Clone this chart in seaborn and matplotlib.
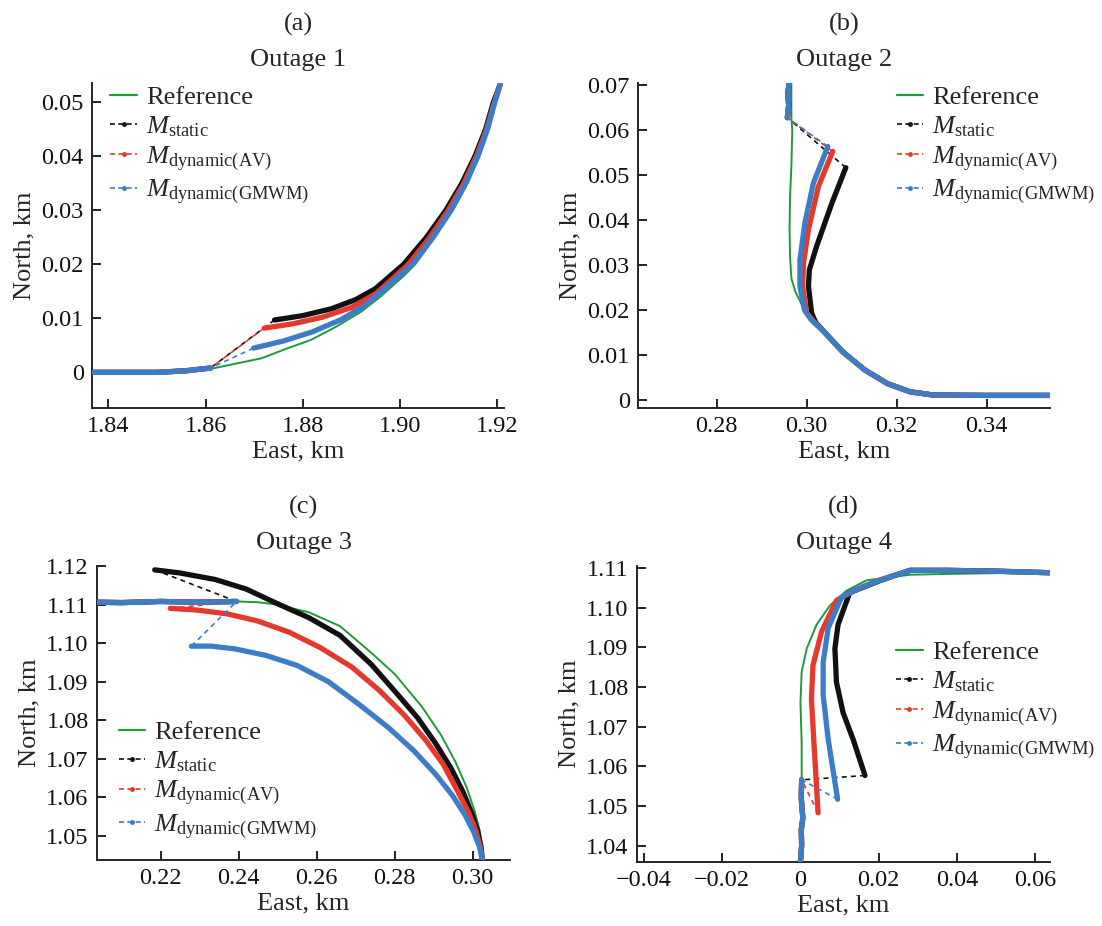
import matplotlib
matplotlib.use("Agg")
import matplotlib.pyplot as plt
from matplotlib.lines import Line2D
import seaborn as sns

# ---- data (km) ----
# (a) Outage 1
a_ref_x = [1.9207, 1.9197, 1.9183, 1.9164, 1.9140, 1.9110, 1.9068, 1.9032, 1.9010, 1.8960, 1.8920, 1.8870,
           1.8817, 1.8770, 1.8715, 1.8640, 1.8608, 1.856, 1.850, 1.8370]
a_ref_y = [0.0533, 0.0500, 0.0450, 0.0400, 0.0350, 0.0300, 0.0245, 0.0200, 0.0180, 0.0140, 0.0112, 0.0085,
           0.0060, 0.0045, 0.0026, 0.0012, 0.0006, 0.0003, 0.0001, 0.0]
a_sta_x = [1.9207, 1.9193, 1.9177, 1.9155, 1.9128, 1.9095, 1.9055, 1.9008, 1.8950, 1.8910, 1.8860, 1.8800, 1.8742]
a_sta_y = [0.0533, 0.0500, 0.0450, 0.0400, 0.0350, 0.0300, 0.0250, 0.0200, 0.0155, 0.0135, 0.0118, 0.0105, 0.0097]
a_av_x = [1.9207, 1.9195, 1.9179, 1.9158, 1.9132, 1.9100, 1.9062, 1.9018, 1.8950, 1.8900, 1.8840, 1.8780, 1.8721]
a_av_y = [0.0533, 0.0500, 0.0450, 0.0400, 0.0350, 0.0300, 0.0250, 0.0200, 0.0145, 0.0120, 0.0102, 0.0090, 0.0082]
a_gm_x = [1.9207, 1.9196, 1.9181, 1.9161, 1.9136, 1.9105, 1.9069, 1.9026, 1.8975, 1.8930, 1.8880, 1.8820, 1.8760, 1.8699]
a_gm_y = [0.0533, 0.0500, 0.0450, 0.0400, 0.0350, 0.0300, 0.0250, 0.0200, 0.0160, 0.0125, 0.0098, 0.0075, 0.0058, 0.0045]
a_end_x = [1.861, 1.856, 1.850, 1.8370]
a_end_y = [0.0008, 0.0003, 0.0, 0.0]

# (b) Outage 2
b_ref_x = [0.3541, 0.340, 0.328, 0.323, 0.318, 0.313, 0.308, 0.304, 0.301, 0.299, 0.2975, 0.2966, 0.2963, 0.2962,
           0.2963, 0.2966, 0.2968, 0.2966, 0.2966]
b_ref_y = [0.0010, 0.0010, 0.0011, 0.0017, 0.0035, 0.0065, 0.0105, 0.0145, 0.0180, 0.0210, 0.0240, 0.0270, 0.0320,
           0.0380, 0.0450, 0.0520, 0.0600, 0.0625, 0.0704]
b_sta_x = [0.3541, 0.340, 0.328, 0.323, 0.318, 0.313, 0.308, 0.304, 0.3020, 0.3011, 0.3004, 0.3006, 0.3022, 0.3056, 0.3087]
b_sta_y = [0.0010, 0.0010, 0.0011, 0.0018, 0.0036, 0.0066, 0.0107, 0.0150, 0.0172, 0.0193, 0.0252, 0.0289, 0.0341, 0.0437, 0.0516]
b_av_x = [0.3541, 0.340, 0.328, 0.323, 0.318, 0.313, 0.308, 0.304, 0.3015, 0.3000, 0.2991, 0.2993, 0.3004, 0.3026, 0.3058]
b_av_y = [0.0010, 0.0010, 0.0011, 0.0018, 0.0036, 0.0066, 0.0107, 0.0150, 0.0175, 0.0193, 0.0252, 0.0304, 0.0378, 0.0474, 0.0552]
b_gm_x = [0.3541, 0.340, 0.328, 0.323, 0.318, 0.313, 0.308, 0.304, 0.3010, 0.2995, 0.2985, 0.2985, 0.2996, 0.3015, 0.3047]
b_gm_y = [0.0010, 0.0010, 0.0011, 0.0018, 0.0036, 0.0066, 0.0107, 0.0150, 0.0178, 0.0200, 0.0252, 0.0311, 0.0393, 0.0482, 0.0563]
b_end_x = [0.2957, 0.2960, 0.2958, 0.2961]
b_end_y = [0.0627, 0.0655, 0.0680, 0.0704]

# (c) Outage 3
c_ref_x = [0.3025, 0.3024, 0.3018, 0.3005, 0.2985, 0.2957, 0.2920, 0.2870, 0.2800, 0.2740, 0.2660, 0.2580, 0.2497,
           0.2450, 0.2395, 0.2200, 0.2037]
c_ref_y = [1.0437, 1.0470, 1.0515, 1.0565, 1.0625, 1.0690, 1.0760, 1.0835, 1.0920, 1.0975, 1.1044, 1.1080, 1.1100,
           1.1106, 1.1108, 1.1106, 1.1106]
c_sta_x = [0.3025, 0.3022, 0.3013, 0.2998, 0.2975, 0.2945, 0.2905, 0.2860, 0.2805, 0.2740, 0.2660, 0.2580, 0.2500,
           0.2420, 0.2340, 0.2249, 0.2185]
c_sta_y = [1.0437, 1.0470, 1.0512, 1.0558, 1.0615, 1.0675, 1.0740, 1.0805, 1.0870, 1.0945, 1.1020, 1.1066, 1.1102,
           1.1140, 1.1165, 1.1182, 1.1190]
c_av_x = [0.3025, 0.3020, 0.3008, 0.2990, 0.2962, 0.2925, 0.2880, 0.2825, 0.2760, 0.2690, 0.2610, 0.2530, 0.2450,
          0.2370, 0.2290, 0.2225]
c_av_y = [1.0437, 1.0470, 1.0515, 1.0560, 1.0615, 1.0685, 1.0748, 1.0813, 1.0878, 1.0938, 1.0988, 1.1028, 1.1057,
          1.1076, 1.1086, 1.1090]
c_gm_x = [0.3025, 0.3018, 0.3003, 0.2980, 0.2948, 0.2905, 0.2850, 0.2785, 0.2710, 0.2630, 0.2550, 0.2470, 0.2390,
          0.2330, 0.2279]
c_gm_y = [1.0437, 1.0470, 1.0510, 1.0555, 1.0605, 1.0660, 1.0720, 1.0780, 1.0840, 1.0900, 1.0942, 1.0968, 1.0985,
          1.0992, 1.0992]
c_end_x = [0.2395, 0.2300, 0.2200, 0.2100, 0.2037]
c_end_y = [1.1108, 1.1106, 1.1108, 1.1105, 1.1106]

# (d) Outage 4
d_ref_x = [0.0638, 0.050, 0.0374, 0.028, 0.0169, 0.0118, 0.0075, 0.0041, 0.0016, 0.0003, 0.0, 0.0003, 0.0003, 0.0002, 0.0]
d_ref_y = [1.1087, 1.1087, 1.1085, 1.1083, 1.1069, 1.1043, 1.1005, 1.0957, 1.0897, 1.0838, 1.0761, 1.0660, 1.0577, 1.0470, 1.0362]
d_sta_x = [0.0638, 0.050, 0.0374, 0.028, 0.0203, 0.0126, 0.0096, 0.0088, 0.0092, 0.0109, 0.0135, 0.0165]
d_sta_y = [1.1088, 1.1092, 1.1094, 1.1094, 1.1068, 1.1038, 1.0957, 1.0897, 1.0812, 1.0735, 1.0667, 1.0577]
d_av_x = [0.0638, 0.050, 0.0374, 0.028, 0.0203, 0.0140, 0.0092, 0.0054, 0.0032, 0.0028, 0.0034, 0.0045]
d_av_y = [1.1088, 1.1092, 1.1094, 1.1094, 1.1070, 1.1045, 1.1018, 1.0940, 1.0855, 1.0770, 1.0667, 1.0483]
d_gm_x = [0.0638, 0.050, 0.0374, 0.028, 0.0203, 0.0140, 0.0105, 0.0071, 0.0058, 0.0058, 0.0071, 0.0095]
d_gm_y = [1.1088, 1.1092, 1.1094, 1.1094, 1.1069, 1.1045, 1.1026, 1.0949, 1.0863, 1.0780, 1.0667, 1.0517]
d_end_x = [0.0003, 0.0002, 0.0006, 0.0002, 0.0003, 0.0]
d_end_y = [1.0566, 1.0520, 1.0470, 1.0440, 1.0400, 1.0362]

# ticks
a_xticks = [1.84, 1.86, 1.88, 1.90, 1.92]
a_xlabels = ["1.84", "1.86", "1.88", "1.90", "1.92"]
a_yticks = [0, 0.01, 0.02, 0.03, 0.04, 0.05]
a_ylabels = ["0", "0.01", "0.02", "0.03", "0.04", "0.05"]
b_xticks = [0.28, 0.30, 0.32, 0.34]
b_xlabels = ["0.28", "0.30", "0.32", "0.34"]
b_yticks = [0, 0.01, 0.02, 0.03, 0.04, 0.05, 0.06, 0.07]
b_ylabels = ["0", "0.01", "0.02", "0.03", "0.04", "0.05", "0.06", "0.07"]
c_xticks = [0.22, 0.24, 0.26, 0.28, 0.30]
c_xlabels = ["0.22", "0.24", "0.26", "0.28", "0.30"]
c_yticks = [1.05, 1.06, 1.07, 1.08, 1.09, 1.10, 1.11, 1.12]
c_ylabels = ["1.05", "1.06", "1.07", "1.08", "1.09", "1.10", "1.11", "1.12"]
d_xticks = [-0.04, -0.02, 0, 0.02, 0.04, 0.06]
d_xlabels = ["\u22120.04", "\u22120.02", "0", "0.02", "0.04", "0.06"]
d_yticks = [1.04, 1.05, 1.06, 1.07, 1.08, 1.09, 1.10, 1.11]
d_ylabels = ["1.04", "1.05", "1.06", "1.07", "1.08", "1.09", "1.10", "1.11"]

series_names = ["Reference", r"$M_{\mathrm{static}}$", r"$M_{\mathrm{dynamic(AV)}}$",
                r"$M_{\mathrm{dynamic(GMWM)}}$"]

GREEN = "#1f9a3a"
BLACK = "#111111"
RED = "#e5392b"
BLUE = "#3d7dc8"

sns.set_style("ticks")
plt.rcParams["font.family"] = ["Liberation Serif", "DejaVu Serif"]
plt.rcParams["mathtext.fontset"] = "custom"
plt.rcParams["mathtext.rm"] = "Liberation Serif"
plt.rcParams["mathtext.it"] = "Liberation Serif:italic"
plt.rcParams["axes.linewidth"] = 1.4


def line(ax, x, y, color, lw, z, ls="-"):
    sns.lineplot(x=x, y=y, ax=ax, color=color, lw=lw, linestyle=ls, sort=False,
                 estimator=None, zorder=z, solid_capstyle="round", solid_joinstyle="round")


def track(ax, x1, y1, x2, y2, color, z):
    line(ax, x1, y1, color, 3.8, z)
    line(ax, [x1[-1], x2[0]], [y1[-1], y2[0]], color, 1.2, z, ls=(0, (3, 2.5)))
    line(ax, x2, y2, color, 3.8, z)


fig = plt.figure(figsize=(11.02, 9.26), dpi=100)
W, H = 1102, 926

panels = [
    # letter, title, box px (left, top, right, bottom), data, limits, ticks, legend anchor
    ("(a)", "Outage 1", (92, 83, 504, 408),
     (a_ref_x, a_ref_y), [(a_sta_x, a_sta_y), (a_av_x, a_av_y), (a_gm_x, a_gm_y)], (a_end_x, a_end_y),
     (1.8366, 1.9215), (-0.0066, 0.0536), (a_xticks, a_xlabels, a_yticks, a_ylabels), (0.032, 1.0085)),
    ("(b)", "Outage 2", (638, 83, 1050, 408),
     (b_ref_x, b_ref_y), [(b_sta_x, b_sta_y), (b_av_x, b_av_y), (b_gm_x, b_gm_y)], (b_end_x, b_end_y),
     (0.2625, 0.3541), (-0.0018, 0.0704), (b_xticks, b_xlabels, b_yticks, b_ylabels), (0.615, 1.0085)),
    ("(c)", "Outage 3", (97, 566, 510, 860),
     (c_ref_x, c_ref_y), [(c_sta_x, c_sta_y), (c_av_x, c_av_y), (c_gm_x, c_gm_y)], (c_end_x, c_end_y),
     (0.2037, 0.3096), (1.0437, 1.1195), (c_xticks, c_xlabels, c_yticks, c_ylabels), (0.04, 0.493)),
    ("(d)", "Outage 4", (637, 566, 1050, 862),
     (d_ref_x, d_ref_y), [(d_sta_x, d_sta_y), (d_av_x, d_av_y), (d_gm_x, d_gm_y)], (d_end_x, d_end_y),
     (-0.0418, 0.0638), (1.0359, 1.1105), (d_xticks, d_xlabels, d_yticks, d_ylabels), (0.615, 0.766)),
]

for letter, title, box, ref, tracks, end, xlim, ylim, ticks, anchor in panels:
    l, t, r, b = box
    ax = fig.add_axes([l / W, 1 - b / H, (r - l) / W, (b - t) / H])
    line(ax, ref[0], ref[1], GREEN, 1.4, 2)
    for (tx, ty), col, z in zip(tracks, [BLACK, RED, BLUE], [3, 4, 5]):
        track(ax, tx, ty, end[0], end[1], col, z)
    ax.set_xlim(*xlim)
    ax.set_ylim(*ylim)
    ax.set_xticks(ticks[0], ticks[1])
    ax.set_yticks(ticks[2], ticks[3])
    ax.tick_params(direction="in", length=6.5, width=1.3, labelsize=17.5, pad=6, colors="#111111")
    sns.despine(ax=ax)
    ax.set_xlabel("East, km", fontsize=19, labelpad=2)
    ax.set_ylabel("North, km", fontsize=19, labelpad=4)
    ax.set_title(title, fontsize=19, pad=12)
    ax.annotate(letter, xy=(0.5, 1), xycoords="axes fraction", xytext=(0, 42),
                textcoords="offset points", ha="center", va="center", fontsize=19)

    handles = [Line2D([], [], color=GREEN, lw=1.6)]
    for col in [BLACK, RED, BLUE]:
        handles.append(Line2D([], [], color=col, lw=1.2, ls=(0, (3, 2)), marker=".", markersize=5))
    ax.legend(handles, series_names, loc="upper left", bbox_to_anchor=anchor, frameon=False,
              fontsize=19, handlelength=1.0, handletextpad=0.35, labelspacing=0.2,
              borderpad=0.2, borderaxespad=0)

fig.savefig("out.png", dpi=100)
